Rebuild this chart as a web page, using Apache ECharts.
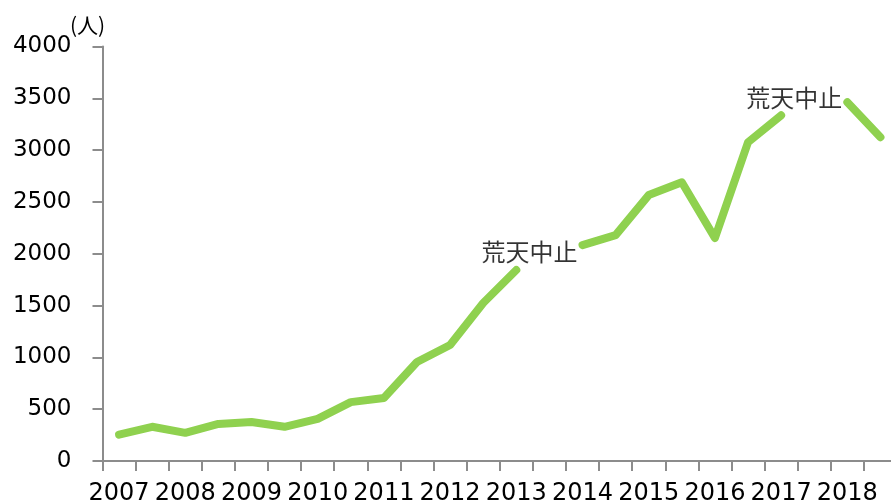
<!DOCTYPE html>
<html>
<head>
<meta charset="utf-8">
<script src="https://cdn.jsdelivr.net/npm/echarts@6/dist/echarts.min.js"></script>
<style>
  html, body { margin: 0; padding: 0; background: #fff; }
  #chart { width: 891px; height: 501px; }
</style>
</head>
<body>
<div id="chart"></div>
<script>
// 年（各年2回分）
var years = ['2007','2008','2009','2010','2011','2012','2013','2014','2015','2016','2017','2018'];
var categories = [];
years.forEach(function (y) { categories.push(y); categories.push(y + '_2'); });

// 来場者数（人） null = 荒天中止
var visitors = [255, 330, 272, 358, 376, 330, 406, 568, 608, 955, 1120, 1525, 1843, null,
                2084, 2180, 2566, 2690, 2152, 3076, 3336, null, 3462, 3125];

// 注記の位置（カテゴリ index, 値）
var noteIndex = [13, 21];
var noteValues = [2020, 3500];
var noteText = '荒天中止';

var yTicks = { min: 0, max: 4000, interval: 500 };

var chart = echarts.init(document.getElementById('chart'));

var option = {
    animation: false,
    grid: { left: 102.5, top: 46.5, right: -6, bottom: 40, containLabel: false, outerBoundsMode: 'none' },
    xAxis: {
        type: 'category',
        data: categories,
        boundaryGap: true,
        axisLine: { lineStyle: { color: '#8c8c8c', width: 2 } },
        axisTick: { show: true, interval: 0, length: 10, lineStyle: { color: '#8c8c8c', width: 2 } },
        axisLabel: {
            interval: 1,
            margin: 21,
            fontFamily: 'DejaVu Sans',
            fontSize: 24,
            color: '#000',
            formatter: function (v) { return v.split('_')[0]; }
        },
        splitLine: { show: false }
    },
    yAxis: {
        type: 'value',
        min: yTicks.min,
        max: yTicks.max,
        interval: yTicks.interval,
        name: '(人)',
        nameLocation: 'end',
        nameGap: 8,
        nameTextStyle: { fontSize: 21, color: '#000', fontFamily: 'Noto Sans CJK JP', align: 'center', padding: [0, 30, 0, 0] },
        axisLine: { show: true, lineStyle: { color: '#8c8c8c', width: 2 } },
        axisTick: { show: true, length: 10, lineStyle: { color: '#8c8c8c', width: 2 } },
        axisLabel: {
            margin: 31,
            fontFamily: 'DejaVu Sans',
            fontSize: 23,
            color: '#000',
            formatter: function (v) { return String(v); }
        },
        splitLine: { show: false }
    },
    series: [
        {
            type: 'line',
            data: visitors,
            connectNulls: false,
            showSymbol: false,
            symbol: 'none',
            lineStyle: { color: '#8fd14f', width: 8, cap: 'round', join: 'round' }
        },
        {
            type: 'scatter',
            symbolSize: 0,
            data: noteIndex.map(function (i, k) { return [i, noteValues[k]]; }),
            label: {
                show: true,
                position: 'inside',
                offset: [-20, 0],
                formatter: noteText,
                fontFamily: 'Noto Sans CJK JP',
                fontSize: 24,
                color: '#000'
            },
            silent: true
        }
    ]
};

chart.setOption(option);
</script>
</body>
</html>
